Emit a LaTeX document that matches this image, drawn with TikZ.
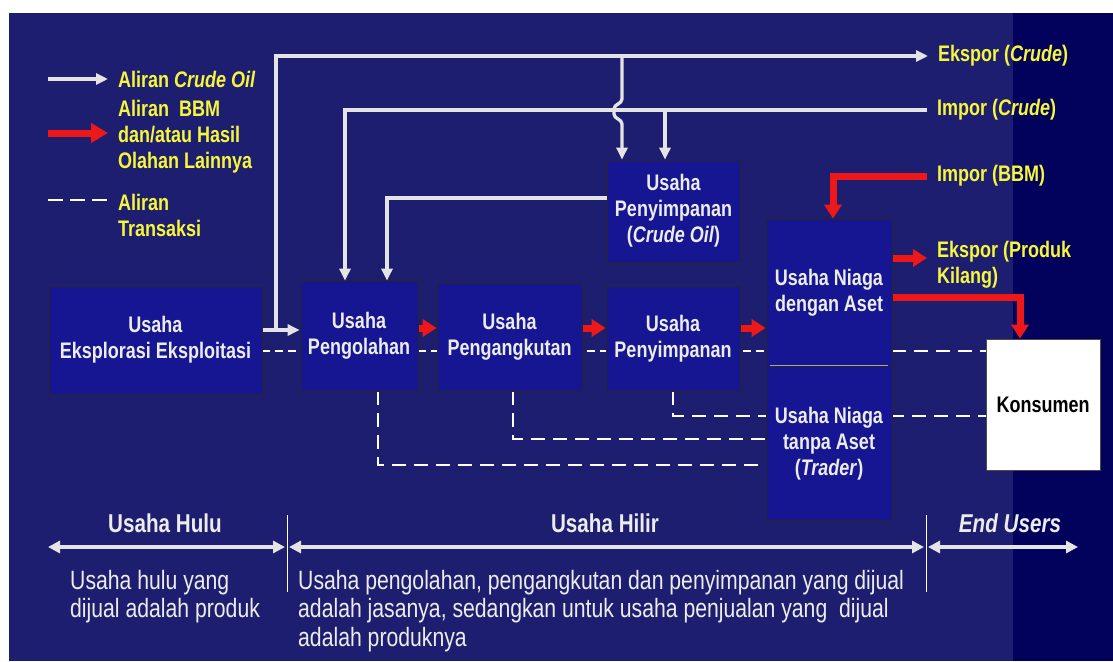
\documentclass[tikz,border=0pt]{standalone}
\usepackage{fontspec}
\setmainfont{Liberation Sans}[FakeStretch=0.8]
\usetikzlibrary{arrows.meta,calc}
\definecolor{bgnavy}{RGB}{30,30,112}
\definecolor{bgdark}{RGB}{2,2,92}
\definecolor{boxblue}{RGB}{22,22,146}
\definecolor{crudec}{RGB}{228,228,228}
\definecolor{bbm}{RGB}{238,24,24}
\definecolor{legyellow}{RGB}{246,246,60}
\definecolor{boxtext}{RGB}{236,236,236}
\newcommand{\bxfont}{\bfseries\fontsize{22.5}{26}\selectfont}
\newcommand{\ftfont}{\fontsize{26.5}{28.5}\selectfont}
\newcommand{\ttlfont}{\bfseries\fontsize{25.8}{28.5}\selectfont}
\pgfdeclarelayer{bg}\pgfdeclarelayer{lines}\pgfsetlayers{bg,lines,main}
\begin{document}
\begin{tikzpicture}[x=1pt,y=-1pt,
  box/.style={draw=black!85,line width=0.8pt,fill=boxblue,text=boxtext,font=\bxfont,align=center,inner sep=0pt},
  lab/.style={text=legyellow,font=\bxfont,anchor=west,inner sep=0pt,align=left},
  crudeline/.style={draw=crudec,line width=3.3pt},
  crudearrow/.style={crudeline,-{Triangle[length=12pt,width=11pt]}},
  bbmarrow/.style={draw=bbm,line width=7pt,-{Triangle[length=14pt,width=17pt]}},
  trans/.style={draw=white,line width=2.8pt,dash pattern=on 14pt off 8pt},
  shorttrans/.style={trans,line width=2.4pt,dash pattern=on 8pt off 5pt},
  spanarrow/.style={draw=crudec,line width=4pt,{Triangle[length=12pt,width=12pt]}-{Triangle[length=12pt,width=12pt]}},
  divider/.style={draw=white,line width=0.8pt},
  foot/.style={text=boxtext,font=\ftfont,anchor=base west,inner sep=0pt},
  ttl/.style={text=boxtext,font=\ttlfont,inner sep=0pt}]
\useasboundingbox (0,0) rectangle (1113,661);
\begin{pgfonlayer}{bg}
  \fill[white] (0,0) rectangle (1113,661);
  \fill[bgnavy] (9,13) rectangle (1113,661);
  \fill[bgdark] (1013,13) rectangle (1113,661);
\end{pgfonlayer}

% boxes
\node[box,minimum width=213,minimum height=108] (ee) at (155.5,340) {Usaha\\Eksplorasi Eksploitasi};
\node[box,minimum width=118,minimum height=110] (peng) at (359,336) {Usaha\\Pengolahan};
\node[box,minimum width=145,minimum height=108] (angk) at (509.5,337) {Usaha\\Pengangkutan};
\node[box,minimum width=134,minimum height=105] (simp) at (673,338.5) {Usaha\\Penyimpanan};
\node[box,minimum width=133,minimum height=102] (crude) at (673.5,211) {Usaha\\Penyimpanan\\(\textit{Crude Oil})};
\node[box,minimum width=126,minimum height=148] (niagaA) at (829,293) {Usaha Niaga\\dengan Aset};
\node[box,minimum width=126,minimum height=153] (niagaB) at (829,443.5) {Usaha Niaga\\tanpa Aset\\(\textit{Trader})};
\draw[gray!70,line width=1pt] ([xshift=4pt,yshift=2pt]niagaA.south west) -- ([xshift=-4pt,yshift=2pt]niagaA.south east);
\node[box,fill=white,draw=black!70,text=black,minimum width=114,minimum height=131] (kons) at (1043,404.5) {Konsumen};

% right labels
\node[lab,inner xsep=10pt] (ekc) at (928,56) {Ekspor (\textit{Crude})};
\node[lab,inner xsep=10pt] (ic) at (927,110) {Impor (\textit{Crude})};
\node[lab,inner xsep=10pt] (ib) at (927,176) {Impor (BBM)};
\node[lab,inner xsep=10pt] (ep) at (927,264.5) {Ekspor (Produk\\Kilang)};

% legend
\coordinate (lg1a) at (48,79); \coordinate (lg1b) at (108,79);
\coordinate (lg2a) at (48,133); \coordinate (lg2b) at (108,133);
\coordinate (lg3a) at (48,200); \coordinate (lg3b) at (108,200);
\node[lab] (l1) at (118,79) {Aliran \textit{Crude Oil}};
\node[lab] (l2) at (118,136.5) {Aliran\ \ BBM\\dan/atau Hasil\\Olahan Lainnya};
\node[lab] (l3) at (118,215) {Aliran\\Transaksi};

% bottom
\node[ttl] (thulu) at (165,523) {Usaha Hulu};
\node[ttl] (thilir) at (605,523) {Usaha Hilir};
\node[ttl] (tend) at (1010,523) {\textit{End Users}};
\node[foot] (f1) at (70,589) {Usaha hulu yang};
\node[foot] (f2) at (70,617) {dijual adalah produk};
\node[foot] (f3) at (298,589) {Usaha pengolahan, pengangkutan dan penyimpanan yang dijual};
\node[foot] (f4) at (298,617) {adalah jasanya, sedangkan untuk usaha penjualan yang\ \ dijual};
\node[foot] (f5) at (298,646) {adalah produknya};

% helper coordinates
\coordinate (j1) at (276,330);
\coordinate (t1) at (276,56);
\coordinate (hop) at (622,56);
\coordinate (imp1) at (345,110);
\coordinate (imp2) at (665,110);
\coordinate (cs1) at (387,198);
\coordinate (rowR) at (0,328);
\coordinate (rowT) at (0,351);
\coordinate (rowEP) at (0,258);
\coordinate (ibm) at (833,176);
\coordinate (kk) at (1020,297);
\coordinate (d1) at (673,416);
\coordinate (d2) at (513,439);
\coordinate (d3) at (378,465);
\coordinate (hl) at (48,547); \coordinate (hr) at (285,547);
\coordinate (il) at (289,547); \coordinate (ir) at (924,547);
\coordinate (el) at (928,547); \coordinate (er) at (1078,547);
\coordinate (v1t) at (287,515); \coordinate (v1b) at (287,592);
\coordinate (v2t) at (926,515); \coordinate (v2b) at (926,592);

\begin{pgfonlayer}{lines}
  % transactions
  \draw[shorttrans] (ee.east |- rowT) -- (niagaA.east |- rowT);
  \draw[trans] (niagaA.east |- rowT) -- (kons.west |- rowT);
  \draw[trans] (simp.south -| d1) -- (d1) -- (kons.west |- d1);
  \draw[trans] (angk.south -| d2) -- (d2) -- (niagaB.west |- d2);
  \draw[trans] (peng.south -| d3) -- (d3) -- (niagaB.west |- d3);
  % crude oil
  \draw[crudearrow] (ee.east |- j1) -- (peng.west |- j1);
  \draw[crudearrow] (j1) -- (t1) -- (ekc.west);
  \draw[crudearrow] (hop) -- ++(0,43) .. controls ++(0,5) and ++(0,-5) .. ++(-8,10) -- ++(0,5) .. controls ++(0,5) and ++(0,-5) .. ++(8,10) -- (crude.north -| hop);
  \draw[crudearrow] (ic.west) -- (imp1) -- (peng.north -| imp1);
  \draw[crudearrow] (imp2) -- (crude.north -| imp2);
  \draw[crudearrow] (crude.west |- cs1) -- (cs1) -- (peng.north -| cs1);
  % BBM
  \draw[bbmarrow] (peng.east |- rowR) -- (angk.west |- rowR);
  \draw[bbmarrow] (angk.east |- rowR) -- (simp.west |- rowR);
  \draw[bbmarrow] (simp.east |- rowR) -- (niagaA.west |- rowR);
  \draw[bbmarrow] (ib.west) -- (ibm) -- (niagaA.north -| ibm);
  \draw[bbmarrow] (niagaA.east |- rowEP) -- (ep.west |- rowEP);
  \draw[bbmarrow] (niagaA.east |- kk) -- (kk) -- (kons.north -| kk);
  % legend
  \draw[crudearrow] (lg1a) -- (lg1b);
  \draw[draw=bbm,line width=7pt,-{Triangle[length=17pt,width=19pt]}] (lg2a) -- (lg2b);
  \draw[trans,dash pattern=on 15pt off 7pt] (lg3a) -- (lg3b);
  % bottom spans
  \draw[spanarrow] (hl) -- (hr);
  \draw[spanarrow] (il) -- (ir);
  \draw[spanarrow] (el) -- (er);
  \draw[divider] (v1t) -- (v1b);
  \draw[divider] (v2t) -- (v2b);
\end{pgfonlayer}
\end{tikzpicture}
\end{document}
